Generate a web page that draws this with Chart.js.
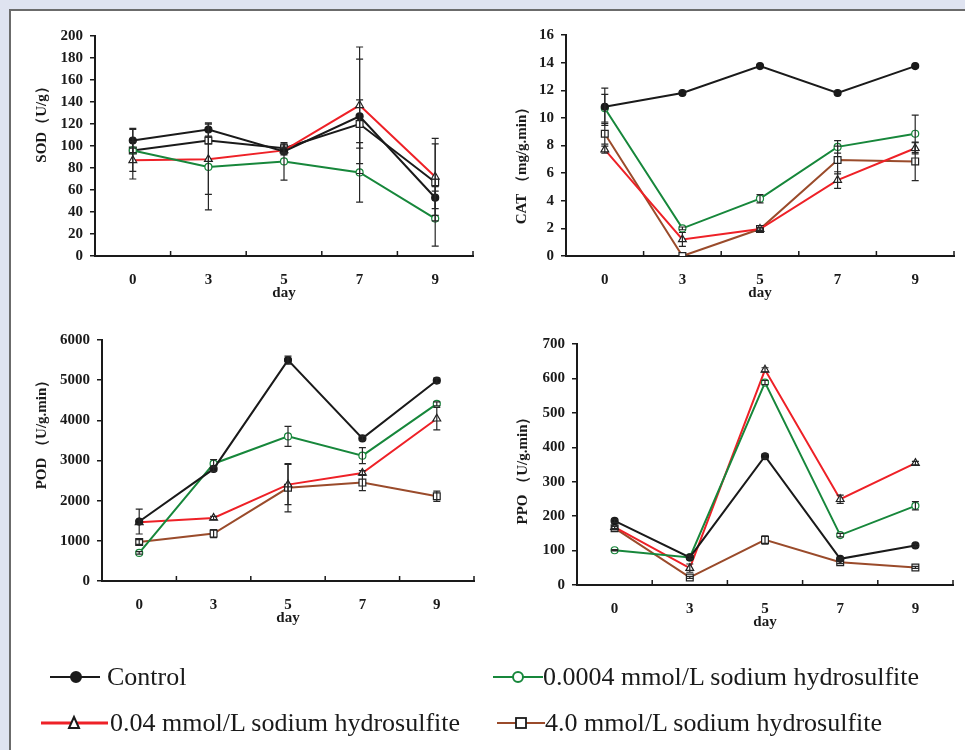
<!DOCTYPE html>
<html lang="en">
<head>
<meta charset="UTF-8">
<title>SOD / CAT / POD / PPO – sodium hydrosulfite</title>
<script src="https://cdn.jsdelivr.net/npm/chart.js"></script>
<style>
  * { margin:0; padding:0; box-sizing:border-box; }
  html,body { width:965px; height:750px; overflow:hidden; background:#dfe3f0; }
  #sheet { position:absolute; left:9px; top:9px; right:0; bottom:0; background:#fff;
           border-top:2px solid #6b6b6b; border-left:2px solid #6b6b6b; }
  canvas.panel { position:absolute; }
  #keys { position:absolute; left:0; top:0; }
  .key { position:absolute; font-family:'Liberation Serif','Times New Roman',serif;
         font-size:26px; line-height:26px; color:#1a1a1a; white-space:nowrap; }
</style>
</head>
<body>
  <div id="sheet"></div>
  <canvas id="sod" class="panel"></canvas>
  <canvas id="cat" class="panel"></canvas>
  <canvas id="pod" class="panel"></canvas>
  <canvas id="ppo" class="panel"></canvas>
  <svg id="keys" width="965" height="750"></svg>

<script>
// ---- data ----
const days = ['0', '3', '5', '7', '9'];
const seriesNames = ['Control', '0.0004 mmol/L sodium hydrosulfite',
                     '0.04 mmol/L sodium hydrosulfite', '4.0 mmol/L sodium hydrosulfite'];

// SOD (U/g)
const sodControl = [105, 115, 95, 127, 53];
const sodControlErr = [11, 6, 3, 52, 10];
const sodLow = [96, 81, 86, 76, 34];
const sodLowErr = [2, 39, 17, 27, 25];
const sodMid = [87, 88, 96, 137, 72];
const sodMidErr = [17, 32, 3, 53, 35];
const sodHigh = [96, 105, 98, 120, 67];
const sodHighErr = [19, 3, 4, 22, 35];

// CAT (mg/g.min)
const catControl = [10.8, 11.8, 13.75, 11.8, 13.75];
const catControlErr = [1.35, 0, 0, 0, 0];
const catLow = [10.7, 2.0, 4.15, 7.9, 8.85];
const catLowErr = [1.0, 0.1, 0.3, 0.45, 1.35];
const catMid = [7.7, 1.2, 1.95, 5.5, 7.8];
const catMidErr = [0.25, 0.5, 0.1, 0.6, 0.4];
const catHigh = [8.85, 0, 1.95, 6.95, 6.85];
const catHighErr = [0.75, 0, 0.1, 1.0, 1.4];

// POD (U/g.min)
const podControl = [1480, 2790, 5500, 3550, 4990];
const podControlErr = [310, 60, 100, 50, 60];
const podLow = [700, 2920, 3600, 3120, 4410];
const podLowErr = [30, 100, 250, 200, 50];
const podMid = [1460, 1570, 2400, 2690, 4040];
const podMidErr = [40, 40, 500, 60, 280];
const podHigh = [970, 1180, 2320, 2450, 2110];
const podHighErr = [60, 100, 600, 200, 130];

// PPO (U/g.min)
const ppoControl = [186, 80, 374, 76, 115];
const ppoControlErr = [5, 4, 6, 3, 4];
const ppoLow = [101, 80, 588, 145, 230];
const ppoLowErr = [2, 5, 6, 5, 12];
const ppoMid = [168, 49, 625, 249, 354];
const ppoMidErr = [4, 12, 6, 12, 5];
const ppoHigh = [165, 22, 131, 66, 51];
const ppoHighErr = [5, 3, 12, 4, 3];

// ---- looks ----
const ink = '#1a1a1a';
const looks = [
  { color: ink,       style: 'circle',   fill: ink,    edge: ink,    r: 3.5 },
  { color: '#17873b', style: 'circle',   fill: '#fff', edge: '#17873b', r: 3.5 },
  { color: '#ee2127', style: 'triangle', fill: '#fff', edge: '#222', r: 4.5 },
  { color: '#9a4b2b', style: 'rect',     fill: '#fff', edge: '#222', r: 4.8 }
];
const serif = "'Liberation Serif','Times New Roman',serif";
const axisFont = { family: serif, size: 15, weight: 'bold' };

// error bars drawn through the y scale
const errorBars = {
  id: 'errorBars',
  afterDatasetsDraw(chart) {
    const { ctx } = chart, y = chart.scales.y;
    ctx.save();
    ctx.strokeStyle = '#262626';
    ctx.lineWidth = 1.2;
    chart.data.datasets.forEach((ds, i) => {
      chart.getDatasetMeta(i).data.forEach((pt, j) => {
        const e = ds.errors[j];
        if (!e) return;
        const v = ds.data[j];
        const top = y.getPixelForValue(v + e);
        const bot = y.getPixelForValue(Math.max(0, v - e));
        ctx.beginPath();
        ctx.moveTo(pt.x, top); ctx.lineTo(pt.x, bot);
        ctx.moveTo(pt.x - 3.5, top); ctx.lineTo(pt.x + 3.5, top);
        ctx.moveTo(pt.x - 3.5, bot); ctx.lineTo(pt.x + 3.5, bot);
        ctx.stroke();
      });
    });
    ctx.restore();
  }
};

// tick marks on the x axis point up into the plot, between categories
const innerTicks = {
  id: 'innerTicks',
  afterDraw(chart) {
    const x = chart.scales.x, ctx = chart.ctx;
    const half = (x.getPixelForTick(1) - x.getPixelForTick(0)) / 2;
    ctx.save();
    ctx.strokeStyle = ink;
    ctx.lineWidth = 1.5;
    for (let i = 0; i < x.ticks.length; i++) {
      const px = x.getPixelForTick(i) + half;
      ctx.beginPath(); ctx.moveTo(px, x.top); ctx.lineTo(px, x.top - 5); ctx.stroke();
    }
    ctx.restore();
  }
};

// rotated y title, placed where the figure has it (not always centred on the axis)
const sideTitle = {
  id: 'sideTitle',
  afterDraw(chart, args, opts) {
    const ctx = chart.ctx;
    ctx.save();
    ctx.translate(opts.x, opts.y);
    ctx.rotate(-Math.PI / 2);
    ctx.font = `bold 15px ${serif}`;
    ctx.fillStyle = ink;
    ctx.textAlign = 'center';
    ctx.textBaseline = 'middle';
    ctx.fillText(opts.text, 0, 0);
    ctx.restore();
  }
};

function panel(id, box, yTitle, yMax, yStep, series, colors) {
  const cv = document.getElementById(id);
  const left = box.L - 85, top = box.T - 22;
  cv.width = box.R - box.L + 95;
  cv.height = box.B - box.T + 80;
  cv.style.left = left + 'px';
  cv.style.top = top + 'px';
  cv.style.width = cv.width + 'px';
  cv.style.height = cv.height + 'px';

  const datasets = series.map((s, i) => {
    const lk = looks[i];
    const c = (colors && colors[i]) || lk.color;
    return {
      label: seriesNames[i], data: s[0], errors: s[1],
      borderColor: c, borderWidth: 2, tension: 0,
      pointStyle: lk.style, pointRadius: lk.r, pointBorderWidth: 1.2,
      pointBackgroundColor: lk.fill, pointBorderColor: lk.edge
    };
  });

  new Chart(cv, {
    type: 'line',
    data: { labels: days, datasets },
    options: {
      responsive: false, animation: false,
      layout: { padding: { top: 22, right: 10, left: 0, bottom: 0 } },
      plugins: {
        legend: { display: false }, tooltip: { enabled: false },
        sideTitle: { text: yTitle, x: box.tx - left, y: box.ty - top }
      },
      scales: {
        x: {
          offset: true,
          grid: { display: true, offset: true, drawOnChartArea: false, drawTicks: false },
          border: { color: ink, width: 2 },
          ticks: { padding: 15, font: axisFont, color: ink },
          title: { display: true, text: 'day', font: axisFont, color: ink, padding: { top: 0, bottom: 12 } },
          afterFit: s => { s.height = 58; }
        },
        y: {
          min: 0, max: yMax,
          ticks: { stepSize: yStep, padding: 7, font: axisFont, color: ink, callback: v => String(v) },
          grid: { drawOnChartArea: false, drawTicks: true, tickLength: 5, color: ink, lineWidth: 1.5 },
          border: { color: ink, width: 2 },
          afterFit: s => { s.width = 85; }
        }
      }
    },
    plugins: [errorBars, innerTicks, sideTitle]
  });
}

panel('sod', { L: 95, R: 473, T: 36, B: 256, tx: 42, ty: 121 }, 'SOD（U/g）', 200, 20,
  [[sodControl, sodControlErr], [sodLow, sodLowErr], [sodMid, sodMidErr], [sodHigh, sodHighErr]],
  [null, null, null, ink]);
panel('cat', { L: 566, R: 954, T: 35, B: 256, tx: 522, ty: 162 }, 'CAT （mg/g.min）', 16, 2,
  [[catControl, catControlErr], [catLow, catLowErr], [catMid, catMidErr], [catHigh, catHighErr]]);
panel('pod', { L: 102, R: 474, T: 340, B: 581, tx: 42, ty: 431 }, 'POD （U/g.min）', 6000, 1000,
  [[podControl, podControlErr], [podLow, podLowErr], [podMid, podMidErr], [podHigh, podHighErr]]);
panel('ppo', { L: 577, R: 953, T: 344, B: 585, tx: 523, ty: 467 }, 'PPO （U/g.min）', 700, 100,
  [[ppoControl, ppoControlErr], [ppoLow, ppoLowErr], [ppoMid, ppoMidErr], [ppoHigh, ppoHighErr]]);

// ---- shared legend under the panels ----
const keySpots = [
  { x1: 50, x2: 100, y: 677, mx: 76, tx: 107, w: 2 },
  { x1: 493, x2: 543, y: 677, mx: 518, tx: 543, w: 2 },
  { x1: 41, x2: 108, y: 723, mx: 74, tx: 110, w: 3 },
  { x1: 497, x2: 545, y: 723, mx: 521, tx: 545, w: 2 }
];
const svg = document.getElementById('keys');
const NS = 'http://www.w3.org/2000/svg';
function el(tag, attrs) {
  const e = document.createElementNS(NS, tag);
  for (const k in attrs) e.setAttribute(k, attrs[k]);
  svg.appendChild(e);
}
keySpots.forEach((k, i) => {
  const lk = looks[i];
  el('line', { x1: k.x1, x2: k.x2, y1: k.y, y2: k.y, stroke: lk.color, 'stroke-width': k.w });
  if (lk.style === 'circle') {
    el('circle', { cx: k.mx, cy: k.y, r: 5, fill: lk.fill, stroke: lk.edge, 'stroke-width': 2 });
  } else if (lk.style === 'triangle') {
    el('polygon', { points: `${k.mx},${k.y - 6} ${k.mx - 5},${k.y + 5} ${k.mx + 5},${k.y + 5}`,
                    fill: '#fff', stroke: ink, 'stroke-width': 2 });
  } else {
    el('rect', { x: k.mx - 5, y: k.y - 5, width: 10, height: 10, fill: '#fff', stroke: ink, 'stroke-width': 1.8 });
  }
  const t = document.createElement('div');
  t.className = 'key';
  t.textContent = seriesNames[i];
  t.style.left = k.tx + 'px';
  t.style.top = (k.y + 9 - 22) + 'px';
  document.body.appendChild(t);
});
</script>
</body>
</html>
